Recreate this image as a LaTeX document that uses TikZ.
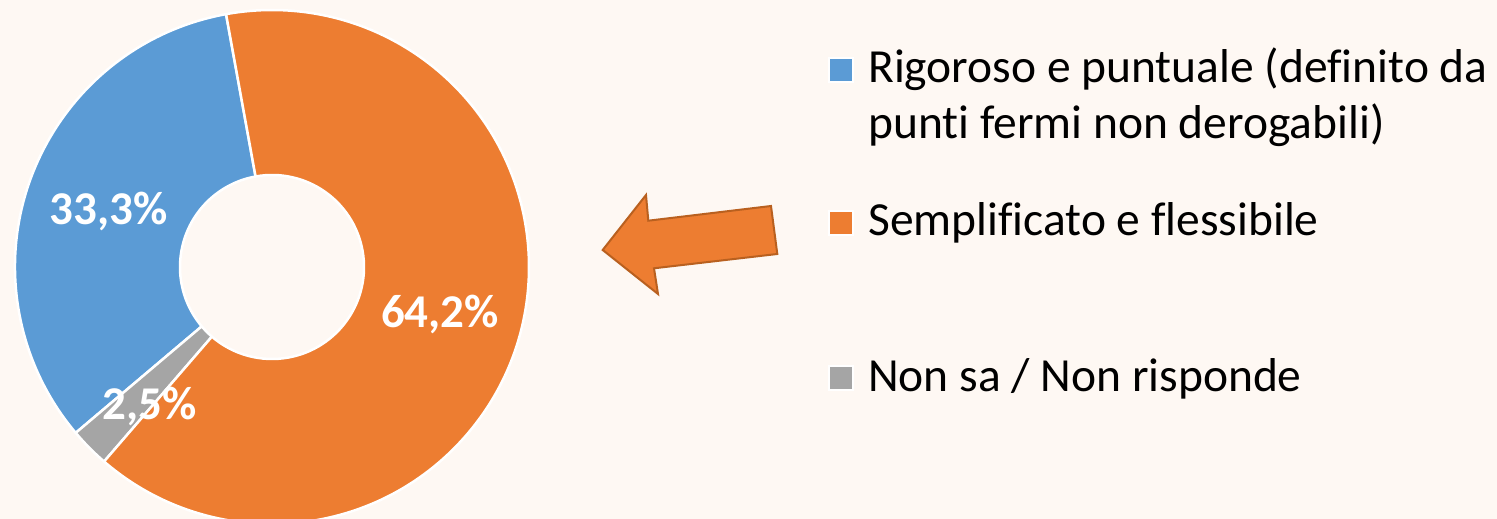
\documentclass[tikz,border=0pt]{standalone}
\usepackage{fontspec}
\setmainfont{Carlito}[Ligatures=NoCommon]
\definecolor{bg}{HTML}{FEF8F3}
\definecolor{cblue}{HTML}{5B9BD5}
\definecolor{corange}{HTML}{ED7D31}
\definecolor{cgray}{HTML}{A5A5A5}
\definecolor{cedge}{HTML}{B9601F}
\tikzset{
  slice/.style={draw=white, line width=2.5pt, line join=round},
  pct/.style={text=white, font=\fontsize{47}{56}\selectfont\bfseries, inner sep=0pt, anchor=base},
  legtext/.style={text=black, font=\fontsize{47.5}{57}\selectfont, inner sep=0pt, anchor=base west},
  legbox/.style={draw=white, line width=2pt, minimum size=24pt, inner sep=0pt},
}
\newcommand{\ringsector}[3]{% color, start, end
  \filldraw[slice, fill=#1] ($(c)+(#2:257)$) arc[start angle=#2, end angle=#3, radius=257]
    -- ($(c)+(#3:92)$) arc[start angle=#3, end angle=#2, radius=92] -- cycle;}
\usetikzlibrary{calc}
\begin{document}
\begin{tikzpicture}[x=1pt,y=1pt]
\fill[bg] (0,0) rectangle (1497,519);
\useasboundingbox (0,0) rectangle (1497,519);
\clip (0,0) rectangle (1497,519);
\coordinate (c) at (272,252);
\ringsector{cblue}{100.3}{220.2}
\ringsector{cgray}{220.2}{229.2}
\ringsector{corange}{229.2}{460.3}
\node[pct] (p1) at (108.7,294) {33,3\%};
\node[pct] (p2) at (440,191) {64,2\%};
\node[pct] (p3) at (150,99) {2,5\%};
% arrow
\coordinate (a1) at (602.7,269);
\coordinate (a2) at (646,324);
\coordinate (a3) at (648.3,298.3);
\coordinate (a4) at (771,313);
\coordinate (a5) at (777.3,265);
\coordinate (a6) at (654,250.7);
\coordinate (a7) at (658,225);
\filldraw[fill=corange, draw=cedge, line width=2pt, line join=miter]
  (a1) -- (a2) -- (a3) -- (a4) -- (a5) -- (a6) -- (a7) -- cycle;
% legend
\node[legbox, fill=cblue] (b1) at (841,449) {};
\node[legtext] (l1a) at (868,436) {Rigoroso e puntuale (definito da};
\node[legtext] (l1b) at (868,380) {punti fermi non derogabili)};
\node[legbox, fill=corange] (b2) at (841,296) {};
\node[legtext] (l2) at (868,283) {Semplificato e flessibile};
\node[legbox, fill=cgray] (b3) at (841,141) {};
\node[legtext] (l3) at (868,127) {Non sa / Non risponde};
\end{tikzpicture}
\end{document}
